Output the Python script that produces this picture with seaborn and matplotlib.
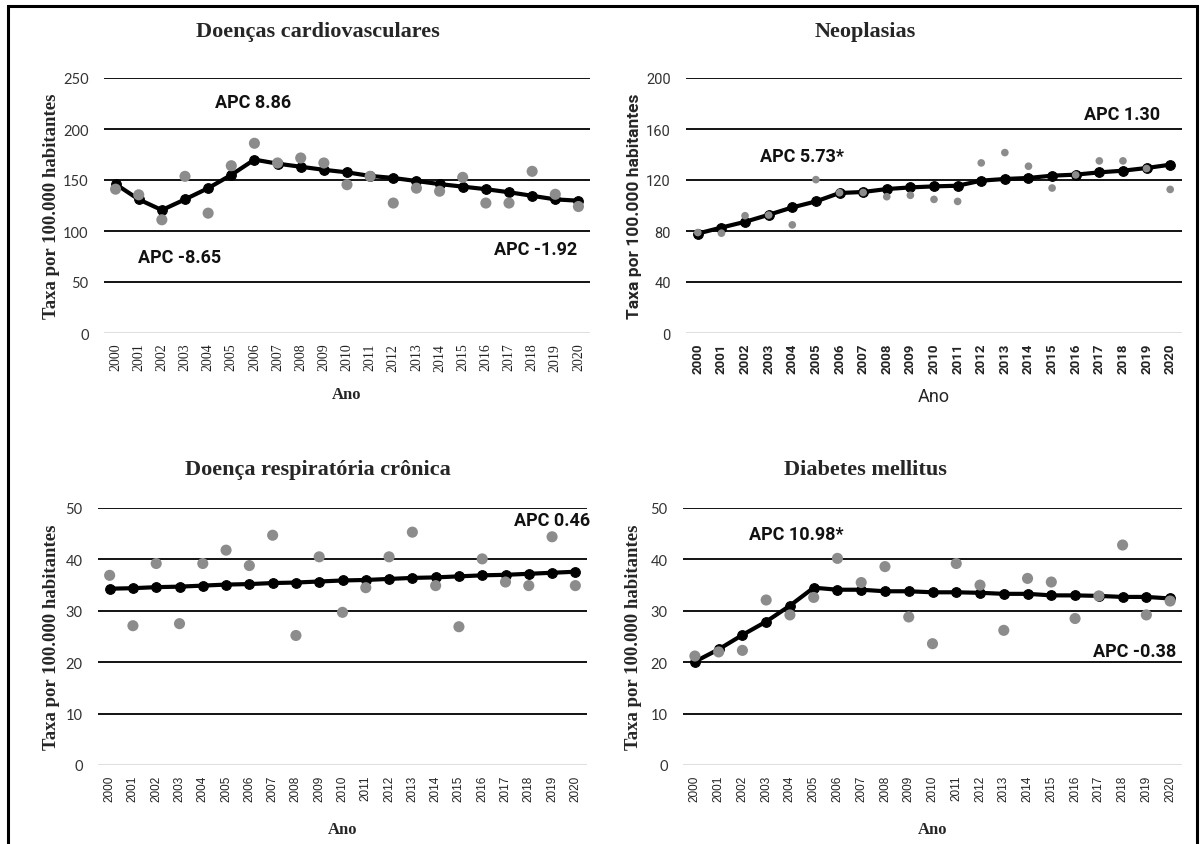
import matplotlib
matplotlib.use("Agg")
import matplotlib.pyplot as plt
import seaborn as sns
import pandas as pd
from matplotlib.patches import Rectangle

sns.set_theme(style="white")
plt.rcParams['font.family'] = ['Liberation Sans', 'DejaVu Sans']

years = list(range(2000, 2021))
year_labels = [str(y) for y in years]

# Doenças cardiovasculares
cv_obs = [141, 135.5, 111, 153.6, 117.5, 164, 186, 166.7, 171.6, 166.7, 145.4,
          153.6, 127.4, 142, 139, 152.6, 127.4, 127.4, 158.5, 136, 124]
cv_fit = [146, 131, 120.5, 131, 142, 155, 170, 166, 163, 160, 157.5,
          154, 152, 149, 146, 143.5, 141, 138, 134.5, 131, 129.7]

# Neoplasias
neo_obs = [78.8, 78.3, 92, 92.5, 84.8, 120.3, 110, 110.2, 106.9, 108, 104.8,
           103.2, 133.4, 141.5, 130.8, 113.7, 124, 135, 135, 129, 112.6]
neo_fit = [78, 82.7, 87.2, 92.7, 98.5, 103.2, 109.8, 110.6, 112.9, 114.2, 115,
           115.5, 119.5, 120.8, 121.6, 123.4, 124.2, 126, 127.3, 129.4, 132]

# Doença respiratória crônica
resp_obs = [36.9, 27.1, 39.2, 27.5, 39.2, 41.8, 38.8, 44.7, 25.2, 40.5, 29.7,
            34.5, 40.5, 45.3, 34.9, 26.9, 40.1, 35.6, 34.9, 44.4, 34.9]
resp_fit = [34.3, 34.4, 34.6, 34.7, 34.9, 35.1, 35.2, 35.4, 35.5, 35.7, 35.9,
            36.0, 36.2, 36.4, 36.5, 36.7, 36.9, 37.0, 37.2, 37.4, 37.6]

# Diabetes mellitus
dm_obs = [21.2, 22.0, 22.3, 32.1, 29.2, 32.6, 40.2, 35.5, 38.6, 28.8, 23.6,
          39.2, 35.0, 26.2, 36.3, 35.6, 28.5, 32.9, 42.8, 29.2, 31.9]
dm_fit = [20.1, 22.5, 25.3, 27.9, 31.0, 34.5, 34.1, 34.1, 33.8, 33.8, 33.6,
          33.6, 33.5, 33.3, 33.3, 33.0, 33.0, 32.9, 32.7, 32.7, 32.4]

titles = ["Doenças cardiovasculares", "Neoplasias",
          "Doença respiratória crônica", "Diabetes mellitus"]
ylabel_txt = "Taxa por 100.000 habitantes"
xlabel_txt = "Ano"

cv_ticks = [0, 50, 100, 150, 200, 250]
neo_ticks = [0, 40, 80, 120, 160, 200]
resp_ticks = [0, 10, 20, 30, 40, 50]
dm_ticks = [0, 10, 20, 30, 40, 50]

cv_apc = [("APC 8.86", 0.307, 0.906), ("APC -8.65", 0.156, 0.298), ("APC -1.92", 0.887, 0.33)]
neo_apc = [("APC 5.73*", 0.234, 0.694), ("APC 1.30", 0.879, 0.859)]
resp_apc = [("APC 0.46", 0.929, 0.952)]
dm_apc = [("APC 10.98*", 0.228, 0.90), ("APC -0.38", 0.906, 0.445)]

W, H = 1203, 845
fig = plt.figure(figsize=(W / 100, H / 100), dpi=100)

SERIF = ['Liberation Serif', 'DejaVu Serif']
NARROW = ['Roboto', 'Liberation Sans', 'DejaVu Sans']
SANS = ['Liberation Sans', 'DejaVu Sans']
CAL = ['Lato', 'DejaVu Sans']


def add_ax(l, r, t, b):
    return fig.add_axes([l / W, 1 - b / H, (r - l) / W, (b - t) / H])


panels = [
    dict(box=(104, 590, 79, 334), obs=cv_obs, fit=cv_fit, ticks=cv_ticks, apc=cv_apc,
         title=titles[0], tpos=(318, 32), ylx=52, xly=395, yl_font=SERIF, xl_font=SERIF,
         xt_font=SERIF, xt_size=10, xt_weight='normal', yt_font=CAL, ms_obs=8, yl_size=13.5),
    dict(box=(686, 1182, 79, 334), obs=neo_obs, fit=neo_fit, ticks=neo_ticks, apc=neo_apc,
         title=titles[1], tpos=(865, 32), ylx=634, xly=397, yl_font=NARROW, xl_font=NARROW,
         xt_font=NARROW, xt_size=9.5, xt_weight='bold', yt_font=NARROW, ms_obs=5.5, yl_size=12.5),
    dict(box=(98, 587, 509, 766), obs=resp_obs, fit=resp_fit, ticks=resp_ticks, apc=resp_apc,
         title=titles[2], tpos=(318, 470), ylx=52, xly=830, yl_font=SERIF, xl_font=SERIF,
         xt_font=SANS, xt_size=8.5, xt_weight='normal', yt_font=CAL, ms_obs=8, yl_size=13.5),
    dict(box=(683, 1182, 509, 766), obs=dm_obs, fit=dm_fit, ticks=dm_ticks, apc=dm_apc,
         title=titles[3], tpos=(865, 470), ylx=634, xly=830, yl_font=SERIF, xl_font=SERIF,
         xt_font=SANS, xt_size=8.5, xt_weight='normal', yt_font=CAL, ms_obs=8, yl_size=13.5),
]

for p in panels:
    l, r, t, b = p['box']
    ax = add_ax(l, r, t, b)
    df = pd.DataFrame({"Ano": years, "obs": p['obs'], "fit": p['fit']})
    ticks = p['ticks']
    for v in ticks:
        ax.axhline(v, color='#d9d9d9' if v == 0 else 'black',
                   lw=1.3 if v else 1.2, zorder=1)
    sns.lineplot(data=df, x="Ano", y="fit", ax=ax, color='black', lw=3,
                 marker='o', markersize=7, markeredgecolor='black', zorder=3)
    sns.scatterplot(data=df, x="Ano", y="obs", ax=ax, color='#8c8c8c',
                    s=p['ms_obs'] ** 2, edgecolor='none', zorder=4)
    ax.set_xlim(1999.5, 2020.5)
    ax.set_ylim(ticks[0], ticks[-1])
    for s in ax.spines.values():
        s.set_visible(False)
    ax.set_facecolor('none')
    ax.set_xticks(years)
    ax.set_xticklabels(year_labels, rotation=90, fontsize=p['xt_size'],
                       family=p['xt_font'], fontweight=p['xt_weight'])
    ax.set_yticks(ticks)
    ax.set_yticklabels([str(v) for v in ticks], fontsize=10.5, family=p['yt_font'])
    ax.tick_params(axis='y', length=0, pad=11, colors='#333333')
    ax.tick_params(axis='x', length=0, pad=7, colors='#222222')
    ax.set_xlabel("")
    ax.set_ylabel("")
    ax.grid(False)
    for txt, fx, fy in p['apc']:
        ax.text(fx, fy, txt, transform=ax.transAxes, ha='center', va='center',
                fontsize=13, fontweight='bold', family=NARROW, color='#111111')
    fig.text(p['tpos'][0] / W, 1 - p['tpos'][1] / H, p['title'], ha='center',
             va='center', fontsize=16, fontweight='bold', family=SERIF)
    fig.text(p['ylx'] / W, 1 - ((t + b) / 2) / H, ylabel_txt, rotation=90,
             ha='center', va='center', fontsize=p['yl_size'], fontweight='bold',
             family=p['yl_font'])
    fig.text(((l + r) / 2) / W, 1 - p['xly'] / H, xlabel_txt, ha='center',
             va='center', fontsize=13 if p['xl_font'] is NARROW else 12,
             fontweight='bold' if p['xl_font'] is SERIF else 'normal',
             family=p['xl_font'])

fig.patches.append(Rectangle((8 / W, -0.05), (1197 - 8) / W, 1.05 - 7 / H,
                             transform=fig.transFigure, fill=False,
                             edgecolor='black', lw=2.2))

fig.savefig("out.png", dpi=100, facecolor='white')
